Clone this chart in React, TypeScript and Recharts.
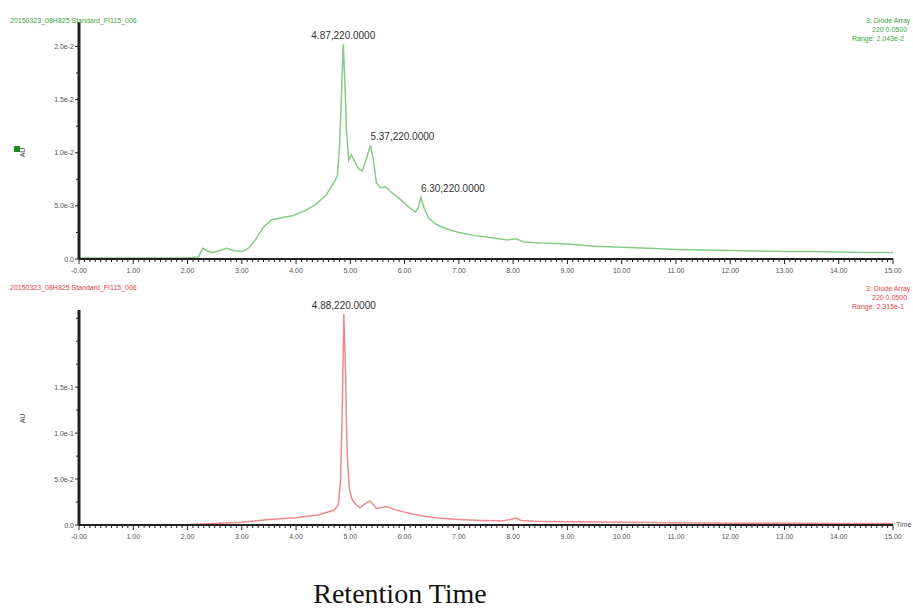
import React from "react";
import { Line, LineChart, ReferenceDot, XAxis, YAxis } from "recharts";

// Retention time (min) and absorbance (AU).
const topTime = [
  0, 1.0, 2.0, 2.2, 2.28, 2.35, 2.45, 2.6, 2.72, 2.85, 3.0, 3.12, 3.25, 3.4,
  3.55, 3.75, 3.95, 4.15, 4.35, 4.55, 4.7, 4.76, 4.8, 4.84, 4.87, 4.9, 4.93,
  4.97, 5.02, 5.08, 5.15, 5.22, 5.3, 5.37, 5.42, 5.48, 5.55, 5.65, 5.75, 5.9,
  6.05, 6.2, 6.25, 6.3, 6.36, 6.45, 6.6, 6.8, 7.0, 7.3, 7.6, 7.9, 8.05, 8.2,
  8.5, 9.0, 9.5, 10.0, 10.5, 11.0, 11.5, 12.0, 12.5, 13.0, 13.5, 14.0, 14.5,
  15.0,
];
const topAbs = [
  0.0001, 0.0001, 0.0001, 0.0002, 0.001, 0.0008, 0.0006, 0.0008, 0.001,
  0.0008, 0.0007, 0.001, 0.0018, 0.003, 0.0037, 0.0039, 0.0041, 0.0045,
  0.0051, 0.006, 0.0072, 0.0078, 0.0105, 0.016, 0.0202, 0.0165, 0.012, 0.0093,
  0.0098, 0.0092, 0.0085, 0.0083, 0.0095, 0.0107, 0.0095, 0.0072, 0.0067,
  0.0068, 0.0063, 0.0057, 0.005, 0.0044, 0.0048, 0.0058, 0.0048, 0.0038,
  0.0032, 0.0028, 0.0025, 0.0022, 0.002, 0.0018, 0.0019, 0.0016, 0.0015,
  0.0014, 0.0012, 0.0011, 0.001, 0.0009, 0.00085, 0.0008, 0.00075, 0.0007,
  0.0007, 0.00065, 0.0006, 0.0006,
];

const bottomTime = [
  0, 1, 2, 2.5, 3.0, 3.5, 4.0, 4.4, 4.7, 4.78, 4.82, 4.85, 4.88, 4.91, 4.94,
  4.98, 5.03, 5.1, 5.18, 5.27, 5.35, 5.4, 5.48, 5.58, 5.68, 5.8, 6.0, 6.3, 6.6,
  7.0, 7.4, 7.8, 7.95, 8.05, 8.15, 8.4, 9, 10, 11, 12, 13, 14, 15,
];
const bottomAbs = [
  0, 0, 0.0005, 0.0015, 0.003, 0.006, 0.008, 0.011, 0.016, 0.022, 0.05, 0.12,
  0.23, 0.17, 0.08, 0.04, 0.028, 0.022, 0.019, 0.023, 0.026, 0.024, 0.018,
  0.019, 0.02, 0.017, 0.014, 0.01, 0.0075, 0.006, 0.005, 0.0045, 0.006, 0.0075,
  0.005, 0.004, 0.0035, 0.003, 0.0025, 0.002, 0.0018, 0.0015, 0.0015,
];

const topPeaks = [
  { t: 4.87, v: 0.0202, label: "4.87,220.0000", anchor: "middle" },
  { t: 5.37, v: 0.0107, label: "5.37,220.0000", anchor: "start" },
  { t: 6.3, v: 0.0058, label: "6.30,220.0000", anchor: "start" },
];
const bottomPeaks = [
  { t: 4.88, v: 0.23, label: "4.88,220.0000", anchor: "middle" },
];

const xMajor = [0, 1, 2, 3, 4, 5, 6, 7, 8, 9, 10, 11, 12, 13, 14, 15];
const xMajorLabels = [
  "-0.00", "1.00", "2.00", "3.00", "4.00", "5.00", "6.00", "7.00", "8.00",
  "9.00", "10.00", "11.00", "12.00", "13.00", "14.00", "15.00",
];
const topYMajor = [0, 0.005, 0.01, 0.015, 0.02];
const topYLabels = ["0.0", "5.0e-3", "1.0e-2", "1.5e-2", "2.0e-2"];
const bottomYMajor = [0, 0.05, 0.1, 0.15];
const bottomYLabels = ["0.0", "5.0e-2", "1.0e-1", "1.5e-1"];

const GREEN = "#86cc86";
const RED = "#ee8a8f";
const AXIS = "#222";
const TICK = "#555";
const FONT = "'Liberation Sans', Arial, sans-serif";

function steps(max: number, step: number): number[] {
  const out: number[] = [];
  for (let i = 0; i * step <= max + 1e-9; i++) out.push(+(i * step).toFixed(6));
  return out;
}

const xTicks = steps(15, 0.1);

function findLabel(v: number, major: number[], labels: string[]) {
  const i = major.findIndex((m) => Math.abs(m - v) < 1e-7);
  return i >= 0 ? labels[i] : null;
}

function XTick(props: any) {
  const { x, y, payload } = props;
  const label = findLabel(payload.value, xMajor, xMajorLabels);
  return (
    <g>
      <line x1={x} x2={x} y1={y} y2={y + (label ? 5 : 3)} stroke={AXIS} />
      {label && (
        <text x={x} y={y + 14} textAnchor="middle" fontSize={7} fill={TICK} fontFamily={FONT}>
          {label}
        </text>
      )}
    </g>
  );
}

function makeYTick(major: number[], labels: string[]) {
  return function YTick(props: any) {
    const { x, y, payload } = props;
    const label = findLabel(payload.value, major, labels);
    return (
      <g>
        <line x1={x - (label ? 4 : 3)} x2={x} y1={y} y2={y} stroke={AXIS} />
        {label && (
          <text x={x - 5} y={y + 2.5} textAnchor="end" fontSize={7} fill={TICK} fontFamily={FONT}>
            {label}
          </text>
        )}
      </g>
    );
  };
}

function peakLabel(text: string, anchor: string) {
  return (props: any) => {
    const vb = props.viewBox || {};
    return (
      <text
        x={vb.x}
        y={vb.y - 5}
        textAnchor={anchor as any}
        fontSize={10}
        fill="#333"
        fontFamily={FONT}
      >
        {text}
      </text>
    );
  };
}

const topData = topTime.map((t, i) => ({ t, v: topAbs[i] }));
const bottomData = bottomTime.map((t, i) => ({ t, v: bottomAbs[i] }));

const small: React.CSSProperties = {
  position: "absolute",
  fontFamily: FONT,
  fontSize: 7,
  whiteSpace: "nowrap",
  lineHeight: "9px",
};

function Panel({
  data,
  color,
  domainMax,
  yTicks,
  yMajor,
  yLabels,
  peaks,
  height,
  top,
  bottom,
}: {
  data: { t: number; v: number }[];
  color: string;
  domainMax: number;
  yTicks: number[];
  yMajor: number[];
  yLabels: string[];
  peaks: typeof topPeaks;
  height: number;
  top: number;
  bottom: number;
}) {
  return (
    <LineChart
      width={913}
      height={height}
      data={data}
      margin={{ top, right: 20, bottom: 0, left: 0 }}
    >
      <XAxis
        dataKey="t"
        type="number"
        domain={[0, 15]}
        ticks={xTicks}
        interval={0}
        tickSize={0}
        tickMargin={0}
        tickLine={false}
        tick={XTick}
        height={bottom}
        axisLine={{ stroke: AXIS, strokeWidth: 2 }}
      />
      <YAxis
        type="number"
        domain={[0, domainMax]}
        ticks={yTicks}
        interval={0}
        tickSize={0}
        tickMargin={0}
        tickLine={false}
        tick={makeYTick(yMajor, yLabels)}
        width={79}
        allowDataOverflow
        axisLine={{ stroke: AXIS, strokeWidth: 3 }}
      />
      <Line
        type="linear"
        dataKey="v"
        stroke={color}
        strokeWidth={1.5}
        dot={false}
        isAnimationActive={false}
      />
      {peaks.map((p) => (
        <ReferenceDot
          key={p.label}
          x={p.t}
          y={p.v}
          r={0}
          stroke="none"
          fill="none"
          ifOverflow="visible"
          label={peakLabel(p.label, p.anchor)}
        />
      ))}
    </LineChart>
  );
}

export default function App() {
  return (
    <div
      style={{
        position: "absolute",
        left: 0,
        top: 0,
        width: 913,
        height: 610,
        overflow: "hidden",
        background: "#fff",
      }}
    >
      <div style={{ position: "absolute", left: 0, top: 0 }}>
        <Panel
          data={topData}
          color={GREEN}
          domainMax={0.0223}
          yTicks={steps(0.02, 0.0025)}
          yMajor={topYMajor}
          yLabels={topYLabels}
          peaks={topPeaks}
          height={290}
          top={22}
          bottom={31}
        />
      </div>
      <div style={{ position: "absolute", left: 0, top: 290 }}>
        <Panel
          data={bottomData}
          color={RED}
          domainMax={0.234}
          yTicks={steps(0.225, 0.025)}
          yMajor={bottomYMajor}
          yLabels={bottomYLabels}
          peaks={bottomPeaks}
          height={270}
          top={20}
          bottom={35}
        />
      </div>

      <div style={{ ...small, left: 10, top: 16, color: "#3aa83a" }}>
        20150323_08H825 Standard_FI115_006
      </div>
      <div style={{ ...small, left: 866, top: 16, color: "#3aa83a" }}>3: Diode Array</div>
      <div style={{ ...small, left: 872, top: 25, color: "#3aa83a" }}>220 0.0500</div>
      <div style={{ ...small, left: 852, top: 34, color: "#3aa83a" }}>Range: 2.043e-2</div>

      <div style={{ ...small, left: 10, top: 283, color: "#e8404a" }}>
        20150323_08H825 Standard_FI115_006
      </div>
      <div style={{ ...small, left: 866, top: 284, color: "#e8404a" }}>3: Diode Array</div>
      <div style={{ ...small, left: 872, top: 293, color: "#e8404a" }}>220 0.0500</div>
      <div style={{ ...small, left: 852, top: 302, color: "#e8404a" }}>Range: 2.315e-1</div>

      <div style={{ ...small, left: 896, top: 520, color: "#555" }}>Time</div>

      <div
        style={{
          ...small,
          left: 14,
          top: 146,
          width: 6,
          height: 6,
          background: "#1f8a1f",
        }}
      />
      <div
        style={{
          ...small,
          left: 18,
          top: 148,
          color: "#444",
          transform: "rotate(-90deg)",
        }}
      >
        AU
      </div>
      <div
        style={{
          ...small,
          left: 18,
          top: 414,
          color: "#444",
          transform: "rotate(-90deg)",
        }}
      >
        AU
      </div>

      <div
        style={{
          position: "absolute",
          left: 0,
          width: 800,
          top: 578,
          textAlign: "center",
          fontFamily: "'Liberation Serif', 'Times New Roman', serif",
          fontSize: 28,
          color: "#111",
          whiteSpace: "nowrap",
        }}
      >
        Retention Time
      </div>
    </div>
  );
}
